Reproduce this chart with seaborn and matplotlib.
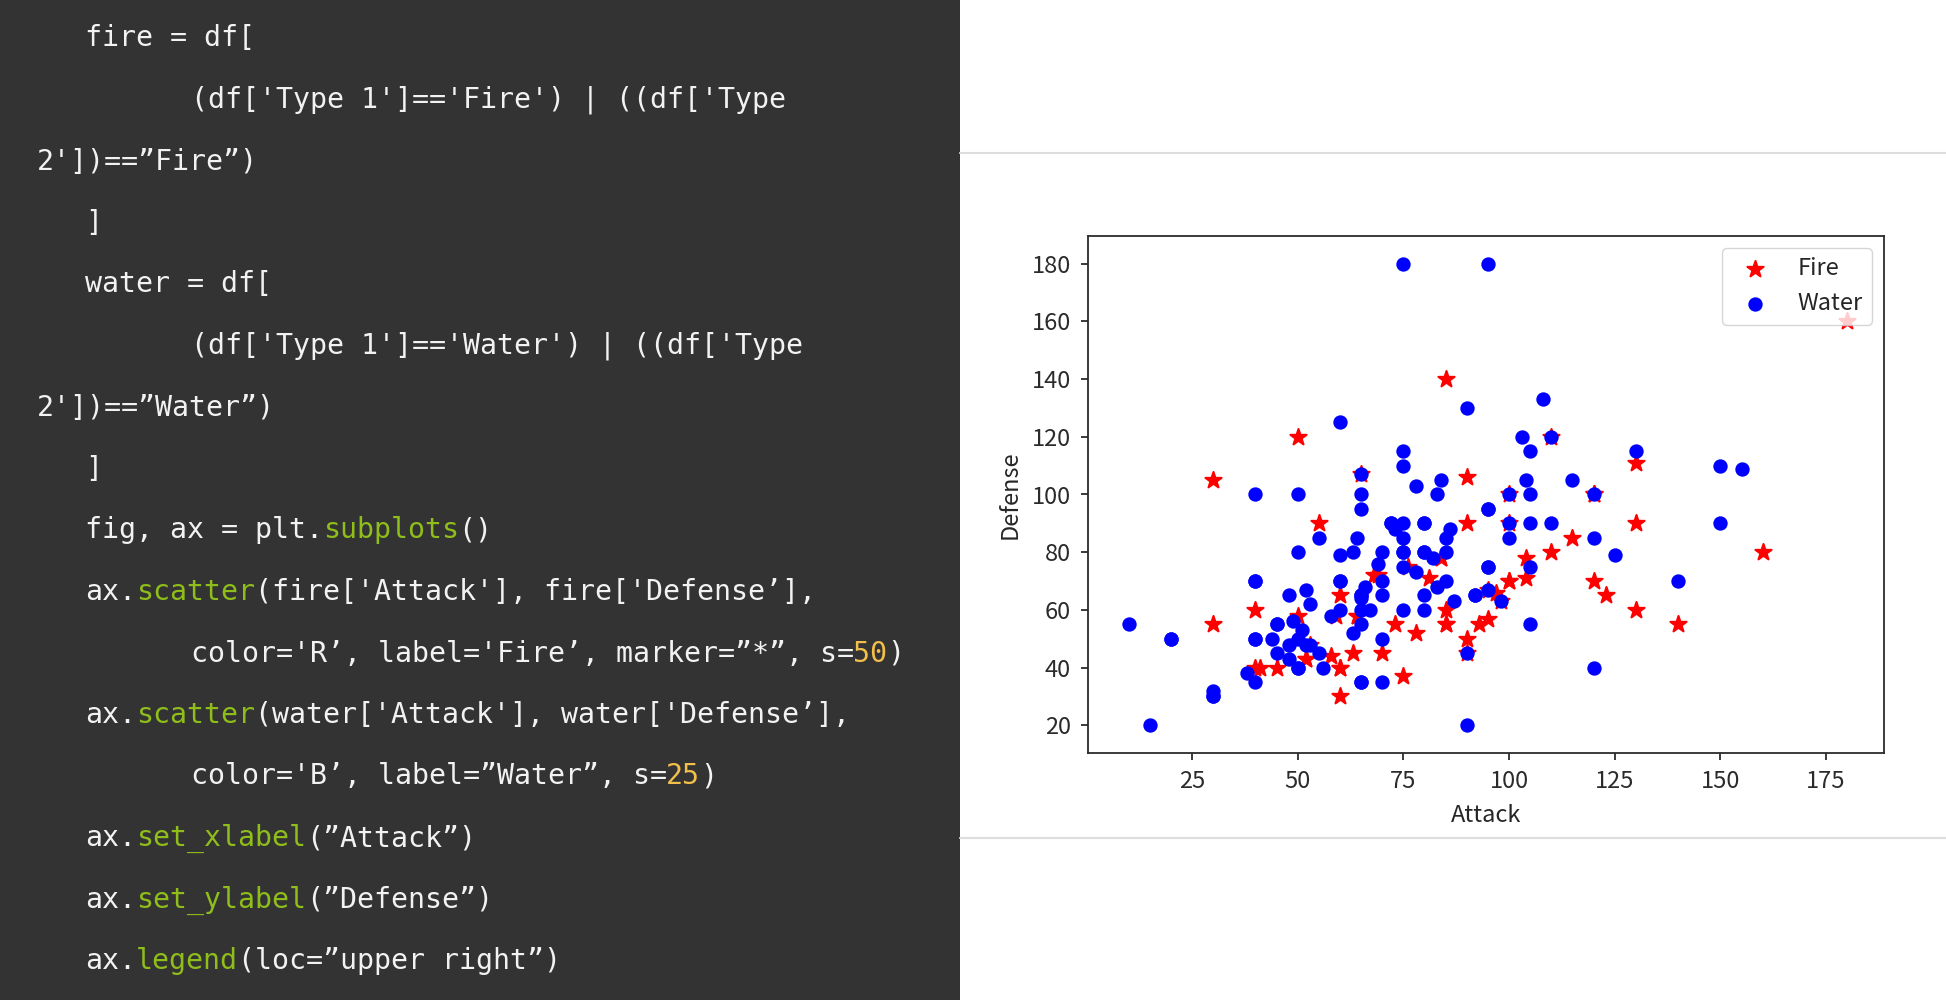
#!/usr/bin/env python3

import matplotlib
matplotlib.use('Agg')
import matplotlib.pyplot as plt
from matplotlib.lines import Line2D
from matplotlib.patches import Rectangle
import pandas as pd
import seaborn as sns


# Fire type pokemon (Attack, Defense)
FIRE_ATTACK = [52, 64, 84, 130, 104, 41, 76, 70, 110, 85, 100, 95, 130, 100,
               52, 64, 84, 40, 50, 60, 90, 90, 75, 115, 130, 60, 85, 120, 160,
               60, 100, 120, 85, 180, 58, 78, 104, 95, 65, 90, 100, 63, 93,
               123, 53, 98, 90, 140, 30, 30, 40, 55, 97, 85, 60, 120, 45, 59,
               69, 73, 81, 50, 68, 110]
FIRE_DEFENSE = [43, 58, 78, 111, 78, 40, 75, 45, 80, 55, 70, 57, 60, 90,
                43, 58, 78, 40, 120, 30, 50, 90, 37, 85, 90, 40, 60, 70, 80,
                40, 70, 100, 140, 160, 44, 52, 71, 67, 107, 106, 100, 45, 55,
                65, 48, 63, 45, 55, 105, 55, 60, 90, 66, 55, 65, 100, 40, 58,
                72, 55, 71, 58, 72, 120]

# Water type pokemon (Attack, Defense)
WATER_ATTACK = [48, 63, 83, 103, 52, 82, 50, 65, 95, 40, 70, 65, 75, 75, 45,
                70, 65, 95, 105, 130, 40, 65, 67, 92, 45, 75, 10, 125, 155,
                85, 65, 40, 60, 80, 115, 65, 80, 105, 38, 58, 20, 50, 75, 45,
                85, 75, 95, 55, 65, 105, 40, 95, 75, 70, 85, 110, 150, 30, 50,
                70, 30, 50, 30, 90, 120, 140, 70, 90, 48, 78, 80, 120, 15, 60,
                40, 60, 80, 64, 104, 84, 90, 100, 150, 51, 66, 86, 80, 65, 105,
                48, 83, 49, 69, 20, 65, 120, 80, 100, 55, 75, 100, 53, 98, 50,
                65, 95, 92, 78, 108, 44, 87, 40, 60, 75, 72, 72, 56, 63, 95,
                52, 105, 60, 75, 53, 73, 110]
WATER_DEFENSE = [65, 80, 100, 120, 48, 78, 40, 65, 95, 35, 65, 65, 110, 180, 55,
                 80, 100, 180, 90, 115, 70, 95, 60, 65, 55, 85, 55, 79, 109,
                 80, 60, 100, 125, 90, 105, 64, 80, 100, 38, 58, 50, 80, 75, 45,
                 85, 80, 75, 85, 35, 75, 70, 95, 115, 50, 70, 90, 110, 30, 50,
                 70, 30, 100, 32, 20, 40, 70, 35, 45, 43, 73, 65, 85, 20, 79,
                 50, 70, 90, 85, 105, 105, 130, 90, 90, 53, 68, 88, 60, 35, 55,
                 48, 68, 56, 76, 50, 107, 100, 80, 100, 45, 60, 85, 48, 63, 40,
                 55, 75, 65, 103, 133, 50, 63, 50, 70, 80, 90, 90, 40, 52, 67,
                 67, 115, 60, 90, 62, 88, 120]

X_TICKS = [25, 50, 75, 100, 125, 150, 175]
Y_TICKS = [20, 40, 60, 80, 100, 120, 140, 160, 180]

# Code listing shown on the left panel: (indent level, [(text, colour key)])
CODE_LINES = [
    (1, [("fire = df[", 'w')]),
    (2, [("(df['Type 1']=='Fire') | ((df['Type", 'w')]),
    (0, [("2'])==\u201dFire\u201d)", 'w')]),
    (1, [("]", 'w')]),
    (1, [("water = df[", 'w')]),
    (2, [("(df['Type 1']=='Water') | ((df['Type", 'w')]),
    (0, [("2'])==\u201dWater\u201d)", 'w')]),
    (1, [("]", 'w')]),
    (1, [("fig, ax = plt.", 'w'), ("subplots", 'g'), ("()", 'w')]),
    (1, [("ax.", 'w'), ("scatter", 'g'), ("(fire['Attack'], fire['Defense\u2019],", 'w')]),
    (2, [("color='R\u2019, label='Fire\u2019, marker=\u201d*\u201d, s=", 'w'), ("50", 'y'), (")", 'w')]),
    (1, [("ax.", 'w'), ("scatter", 'g'), ("(water['Attack'], water['Defense\u2019],", 'w')]),
    (2, [("color='B\u2019, label=\u201dWater\u201d, s=", 'w'), ("25", 'y'), (")", 'w')]),
    (1, [("ax.", 'w'), ("set_xlabel", 'g'), ("(\u201dAttack\u201d)", 'w')]),
    (1, [("ax.", 'w'), ("set_ylabel", 'g'), ("(\u201dDefense\u201d)", 'w')]),
    (1, [("ax.", 'w'), ("legend", 'g'), ("(loc=\u201dupper right\u201d)", 'w')]),
]

CODE_COLORS = {'w': '#f2f2f2', 'g': '#8fbe1a', 'y': '#f2c04a'}
INDENT_X = [37, 85, 191]

W, H = 1946, 1000
CODE_PT = 20.3
CHAR_PX = CODE_PT * 100 / 72 * 0.602

sns.set_style('white')
plt.rcParams['font.family'] = ['Noto Sans CJK KR', 'DejaVu Sans']
plt.rcParams['font.size'] = 17
plt.rcParams['axes.edgecolor'] = '#2b2b2b'
plt.rcParams['axes.linewidth'] = 1.3
plt.rcParams['text.color'] = '#262626'
plt.rcParams['axes.labelcolor'] = '#262626'
plt.rcParams['xtick.color'] = '#2b2b2b'
plt.rcParams['ytick.color'] = '#2b2b2b'

fig = plt.figure(figsize=(W / 100, H / 100), dpi=100)
fig.patch.set_facecolor('white')

# dark code panel
fig.add_artist(Rectangle((0, 0), 960 / W, 1, transform=fig.transFigure,
                         facecolor='#333333', edgecolor='none', zorder=0))

# thin separators on the white side
for yy in [152.7, 837.5]:
    fig.add_artist(Line2D([960 / W, 1], [1 - yy / H, 1 - yy / H],
                          color='#dddddd', lw=1.5, transform=fig.transFigure))

for i, (level, parts) in enumerate(CODE_LINES):
    base_y = 46.5 + 61.5 * i
    x = INDENT_X[level]
    for txt, key in parts:
        fig.text(x / W, 1 - base_y / H, txt, color=CODE_COLORS[key],
                 family='DejaVu Sans Mono', fontsize=CODE_PT, va='baseline',
                 ha='left')
        x += CHAR_PX * len(txt)

# scatter chart
ax = fig.add_axes([1088 / W, 1 - 753 / H, (1884 - 1088) / W, (753 - 236) / H])
fire = pd.DataFrame({'Attack': FIRE_ATTACK, 'Defense': FIRE_DEFENSE})
water = pd.DataFrame({'Attack': WATER_ATTACK, 'Defense': WATER_DEFENSE})

sns.scatterplot(data=fire, x='Attack', y='Defense', color='red', marker='*',
                s=150, edgecolor='red', linewidth=1.5, label='Fire', ax=ax)
sns.scatterplot(data=water, x='Attack', y='Defense', color='blue', marker='o',
                s=78, edgecolor='blue', linewidth=1.5, label='Water', ax=ax)

ax.set_xlim(0.4, 188.7)
ax.set_ylim(10.4, 189.6)
ax.set_xticks(X_TICKS)
ax.set_yticks(Y_TICKS)
ax.tick_params(length=5, width=1.3, pad=7.5, left=True, bottom=True)
ax.set_xlabel('Attack', labelpad=8)
ax.set_ylabel('Defense', labelpad=7)
ax.legend(loc='upper right')

fig.savefig('out.png', dpi=100)
plt.close(fig)
